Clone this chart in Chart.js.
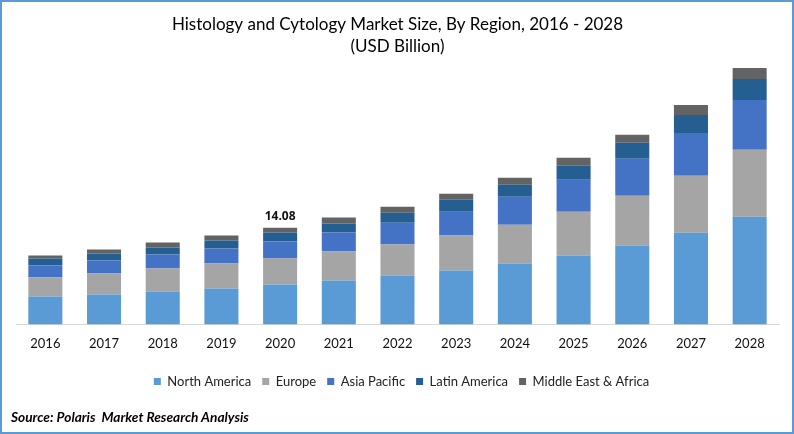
<!DOCTYPE html>
<html lang="en">

<head>
  <meta charset="UTF-8">
  <title>Histology and Cytology Market Size</title>
  <script src="https://cdn.jsdelivr.net/npm/chart.js@4/dist/chart.umd.min.js"></script>
  <style>
    html, body { margin: 0; padding: 0; background: #fff; overflow: hidden; }
    #wrap { position: relative; width: 794px; height: 434px; }
    #frame { position: absolute; left: 0; top: 0; width: 794px; height: 434px; box-sizing: border-box; border: 2px solid #5b9bd5; pointer-events: none; }
    #source { position: absolute; left: 11px; top: 408px; font: italic bold 13.7px Lato, sans-serif; color: #000; }
  </style>
</head>

<body>
  <div id="wrap">
    <canvas id="marketChart" width="794" height="434"></canvas>
    <div id="source">Source: Polaris&nbsp; Market Research Analysis</div>
    <div id="frame"></div>
  </div>

  <script>
    const years = ['2016', '2017', '2018', '2019', '2020', '2021', '2022', '2023', '2024', '2025', '2026', '2027', '2028'];
    const northAmerica = [4.06, 4.35, 4.79, 5.23, 5.81, 6.39, 7.11, 7.84, 8.85, 10.02, 11.47, 13.35, 15.68];
    const europe = [2.76, 3.05, 3.34, 3.63, 3.77, 4.21, 4.50, 5.08, 5.66, 6.39, 7.26, 8.27, 9.73];
    const asiaPacific = [1.74, 1.89, 2.03, 2.18, 2.47, 2.76, 3.19, 3.48, 4.06, 4.64, 5.37, 6.24, 7.26];
    const latinAmerica = [1.02, 1.02, 1.02, 1.16, 1.31, 1.31, 1.45, 1.74, 1.74, 2.03, 2.32, 2.61, 3.05];
    const middleEast = [0.44, 0.58, 0.73, 0.73, 0.72, 0.87, 0.87, 0.87, 1.02, 1.16, 1.16, 1.45, 1.60];
    const labelledYear = '2020';
    const labelledTotal = '14.08';

    // the only value label on the chart sits above the 2020 stack
    const totalLabel = {
      id: 'totalLabel',
      afterDatasetsDraw(chart) {
        const i = years.indexOf(labelledYear);
        const { ctx, scales } = chart;
        ctx.save();
        ctx.font = 'bold 12px "Open Sans", sans-serif';
        ctx.fillStyle = '#111';
        ctx.textAlign = 'center';
        ctx.textBaseline = 'bottom';
        ctx.fillText(labelledTotal, scales.x.getPixelForValue(i), scales.y.getPixelForValue(Number(labelledTotal)) - 5);
        ctx.restore();
      }
    };

    // legend sits a little right of the true centre in the original
    const nudgeLegend = {
      id: 'nudgeLegend',
      afterLayout(chart) {
        chart.legend.left += 4;
        chart.legend.right += 4;
      }
    };

    function series(label, data, color) {
      return { label, data, backgroundColor: color, barPercentage: 0.58, categoryPercentage: 1 };
    }

    new Chart(document.getElementById('marketChart'), {
      type: 'bar',
      data: {
        labels: years,
        datasets: [
          series('North America', northAmerica, '#5b9bd5'),
          series('Europe', europe, '#a5a5a5'),
          series('Asia Pacific', asiaPacific, '#4472c4'),
          series('Latin America', latinAmerica, '#255e91'),
          series('Middle East & Africa', middleEast, '#636363')
        ]
      },
      options: {
        responsive: false,
        animation: false,
        layout: { padding: { left: 16, right: 15, top: 13, bottom: 36 } },
        scales: {
          x: {
            stacked: true,
            grid: { display: false, drawTicks: false },
            border: { color: '#d9d9d9', width: 1 },
            ticks: { color: '#111', font: { family: 'Lato', size: 13 }, padding: 12, maxRotation: 0 }
          },
          y: { stacked: true, display: false, min: 0, max: 38.3 }
        },
        plugins: {
          title: {
            display: true,
            text: ['Histology and Cytology Market Size, By Region, 2016 - 2028', '(USD Billion)'],
            color: '#000',
            font: { family: 'Lato', size: 17, weight: 'normal', lineHeight: 1.3 },
            padding: { top: 0, bottom: 4 }
          },
          legend: {
            position: 'bottom',
            labels: {
              color: '#222',
              font: { family: 'Lato', size: 13 },
              boxWidth: 7,
              boxHeight: 7,
              padding: 11
            }
          },
          tooltip: { enabled: false }
        }
      },
      plugins: [totalLabel, nudgeLegend]
    });
  </script>
</body>

</html>
